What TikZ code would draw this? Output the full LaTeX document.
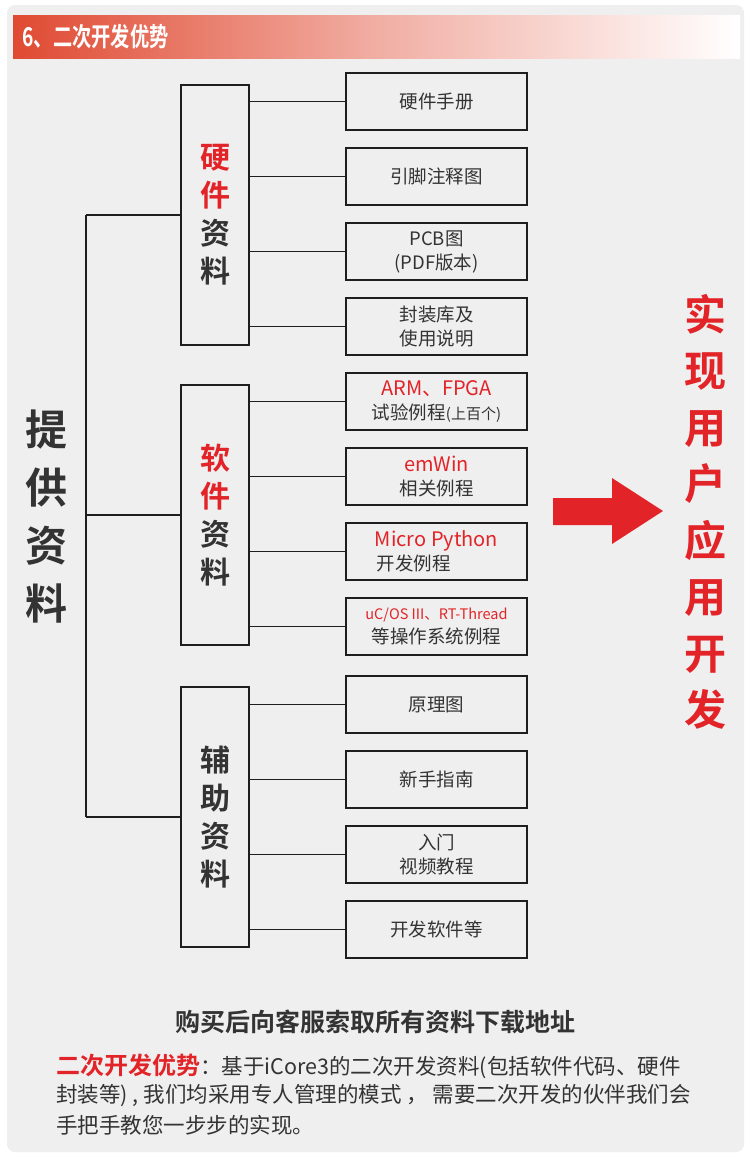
\documentclass[tikz,border=0pt]{standalone}
\usepackage{fontspec}
\setmainfont{Noto Sans CJK SC}[BoldFont={Noto Sans CJK SC Bold}]
\definecolor{bg}{RGB}{239,239,239}
\definecolor{myred}{RGB}{226,36,40}
\definecolor{hdr}{RGB}{224,74,50}
\definecolor{txt}{RGB}{51,51,51}
\definecolor{ln}{RGB}{30,30,30}
\tikzset{
  catbox/.style={draw=ln, line width=1.8pt, minimum width=68pt, minimum height=260pt, inner sep=0pt, align=center,
     font=\fontsize{30}{38}\selectfont\bfseries, text=txt},
  itembox/.style={draw=ln, line width=1.8pt, minimum width=181pt, minimum height=57pt, inner sep=0pt, align=center,
     font=\fontsize{18.5}{24}\selectfont, text=txt},
  conn/.style={draw=ln, line width=1.5pt},
  redl/.style={},
}
\newcommand{\rl}[1]{\textcolor{myred}{\fontsize{20}{24}\selectfont #1}}
\begin{document}
\begin{tikzpicture}[x=1pt,y=-1pt]
\useasboundingbox (0,0) rectangle (750,1167);
\fill[white] (0,0) rectangle (750,1167);
\fill[bg, rounded corners=8pt] (7,5) rectangle (744,1152);
% header
\shade[left color=hdr, right color=white, middle color=hdr!45!white] (13,15) rectangle (740,58);
\node[anchor=west, text=white, font=\fontsize{26}{30}\selectfont\bfseries, xscale=0.74, transform shape] (title) at (20,37) {6、二次开发优势};

% big left label
\node[font=\fontsize{42}{58}\selectfont\bfseries, text=txt, align=center] (prov) at (46,517) {提\\供\\资\\料};

% category boxes
\node[catbox] (hw) at (215,215) {\textcolor{myred}{硬}\\\textcolor{myred}{件}\\资\\料};
\node[catbox] (sw) at (215,515) {\textcolor{myred}{软}\\\textcolor{myred}{件}\\资\\料};
\node[catbox] (ax) at (215,817) {辅\\助\\资\\料};

% trunk
\coordinate (ttop) at (86,215);
\coordinate (tmid) at (86,515);
\coordinate (tbot) at (86,817);
\draw[conn] (ttop) -- (tbot);
\draw[conn] (ttop) -- (hw.west);
\draw[conn] (tmid) -- (sw.west);
\draw[conn] (tbot) -- (ax.west);

% item boxes
\node[itembox] (r1) at (436.5,101.5) {硬件手册};
\node[itembox] (r2) at (436.5,176.5) {引脚注释图};
\node[itembox] (r3) at (436.5,251.5) {PCB图\\(PDF版本)};
\node[itembox] (r4) at (436.5,326.5) {封装库及\\使用说明};
\node[itembox] (r5) at (436.5,401.5) {\rl{ARM、FPGA}\\试验例程\fontsize{15}{20}\selectfont(上百个)};
\node[itembox] (r6) at (436.5,476.5) {\rl{emWin}\\相关例程};
\node[itembox] (r7) at (436.5,551.5) {\rl{Micro Python}\\\hspace*{-46pt}开发例程};
\node[itembox] (r8) at (436.5,626.5) {\textcolor{myred}{\fontsize{14.5}{20}\selectfont uC/OS III、RT-Thread}\\等操作系统例程};
\node[itembox] (r9) at (436.5,704.5) {原理图};
\node[itembox] (r10) at (436.5,779.5) {新手指南};
\node[itembox] (r11) at (436.5,854.5) {入门\\视频教程};
\node[itembox] (r12) at (436.5,929.5) {开发软件等};

\foreach \r in {r1,r2,r3,r4}{\draw[conn] (\r.west) -- (\r.west -| hw.east);}
\foreach \r in {r5,r6,r7,r8}{\draw[conn] (\r.west) -- (\r.west -| sw.east);}
\foreach \r in {r9,r10,r11,r12}{\draw[conn] (\r.west) -- (\r.west -| ax.east);}

% big arrow
\fill[myred] (553,498) -- (612,498) -- (612,478) -- (663,511) -- (612,544) -- (612,525) -- (553,525) -- cycle;

% right vertical text
\node[font=\fontsize{42}{56.5}\selectfont\bfseries, text=myred, align=center] (goal) at (705,512) {实\\现\\用\\户\\应\\用\\开\\发};

% bottom text
\node[font=\fontsize{25}{28}\selectfont\bfseries, text=txt] (dl) at (375,1022) {购买后向客服索取所有资料下载地址};
\node[anchor=west, font=\fontsize{21.5}{26}\selectfont, text=txt, inner sep=0pt] (p1) at (56,1066)
  {\textcolor{myred}{\fontsize{24}{26}\selectfont\bfseries 二次开发优势}：基于iCore3的二次开发资料(包括软件代码、硬件};
\node[anchor=west, font=\fontsize{21.5}{26}\selectfont, text=txt, inner sep=0pt] (p2) at (56,1096)
  {封装等) , 我们均采用专人管理的模式 ， 需要二次开发的伙伴我们会};
\node[anchor=west, font=\fontsize{21.5}{26}\selectfont, text=txt, inner sep=0pt] (p3) at (56,1125)
  {手把手教您一步步的实现。};
\end{tikzpicture}
\end{document}
